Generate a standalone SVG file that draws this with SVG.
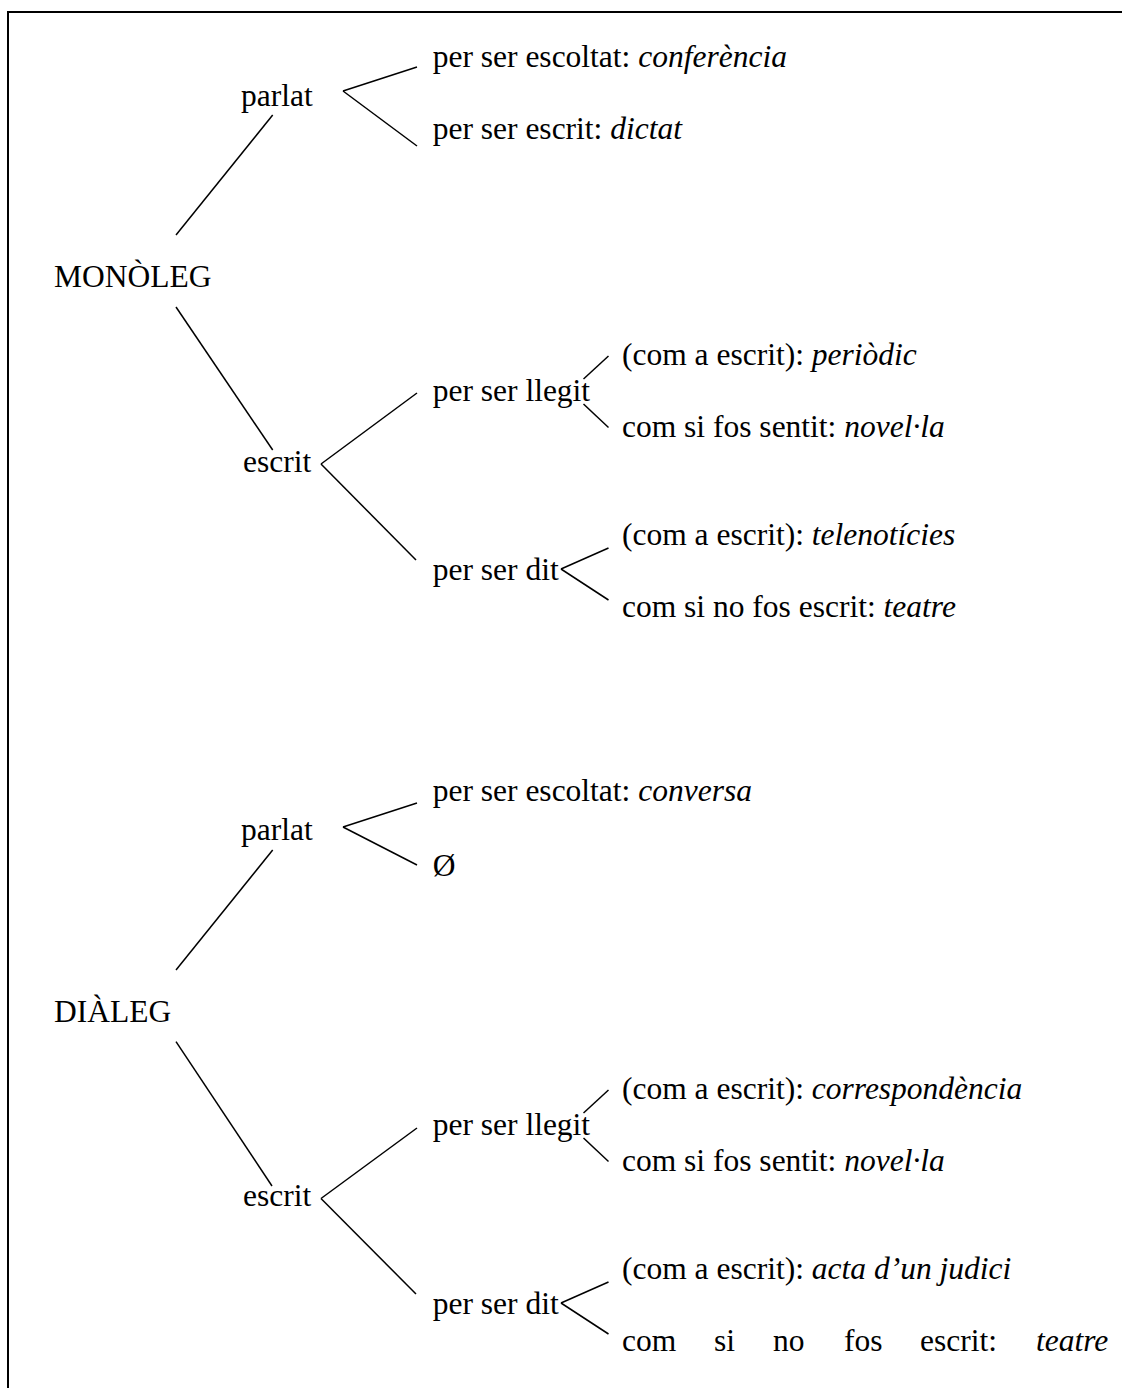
<svg xmlns="http://www.w3.org/2000/svg" width="1122" height="1388" viewBox="0 0 1122 1388">
<style>
text{font-family:"Liberation Serif","Times New Roman",serif;font-size:31.5px;fill:#000}
.i{font-style:italic}
.c line{stroke:#000;stroke-width:1.5;stroke-linecap:butt}
.b{stroke:#000;stroke-width:2;fill:none}
</style>
<rect width="1122" height="1388" fill="#fff"/>
<path class="b" d="M8 1388 V12 H1122"/>
<g class="c" id="connectors">
<line x1="176" y1="235" x2="272.7" y2="115"/>
<line x1="176" y1="307" x2="272.7" y2="450"/>
<line x1="343" y1="91" x2="417" y2="67"/>
<line x1="343" y1="91" x2="417" y2="146"/>
<line x1="321" y1="464" x2="417" y2="393"/>
<line x1="321" y1="464" x2="416" y2="560"/>
<line x1="583.5" y1="379" x2="608.5" y2="356"/>
<line x1="583.5" y1="404" x2="608.5" y2="427.5"/>
<line x1="561" y1="569" x2="608.5" y2="548"/>
<line x1="561" y1="569" x2="608.5" y2="600"/>
<line x1="176" y1="970" x2="272.7" y2="850"/>
<line x1="176" y1="1041.7" x2="272" y2="1186"/>
<line x1="343" y1="827" x2="417" y2="803"/>
<line x1="343" y1="827" x2="417" y2="865"/>
<line x1="321" y1="1198.5" x2="417" y2="1128"/>
<line x1="321" y1="1198.5" x2="416" y2="1294"/>
<line x1="583.5" y1="1113" x2="608.5" y2="1090"/>
<line x1="583.5" y1="1138" x2="608.5" y2="1161.5"/>
<line x1="561" y1="1303" x2="608.5" y2="1282"/>
<line x1="561" y1="1303" x2="608.5" y2="1334"/>
</g>
<g id="monoleg"><text x="54" y="287">MONÒLEG</text></g>
<g id="m-parlat"><text x="241" y="106">parlat</text></g>
<g id="m-escoltat"><text x="432.7" y="67">per ser escoltat: <tspan class="i">conferència</tspan></text></g>
<g id="m-escrit-dictat"><text x="432.7" y="139">per ser escrit: <tspan class="i">dictat</tspan></text></g>
<g id="m-escrit"><text x="243" y="472">escrit</text></g>
<g id="m-llegit"><text x="432.7" y="401">per ser llegit</text></g>
<g id="m-periodic"><text x="622" y="365">(com a escrit): <tspan class="i">periòdic</tspan></text></g>
<g id="m-novella"><text x="622" y="437">com si fos sentit: <tspan class="i">novel·la</tspan></text></g>
<g id="m-dit"><text x="432.7" y="580">per ser dit</text></g>
<g id="m-telenoticies"><text x="622" y="545">(com a escrit): <tspan class="i">telenotícies</tspan></text></g>
<g id="m-teatre"><text x="622" y="617">com si no fos escrit: <tspan class="i">teatre</tspan></text></g>
<g id="dialeg"><text x="54" y="1022">DIÀLEG</text></g>
<g id="d-parlat"><text x="241" y="840">parlat</text></g>
<g id="d-escoltat"><text x="432.7" y="801">per ser escoltat: <tspan class="i">conversa</tspan></text></g>
<g id="d-buit"><text x="432.7" y="876">Ø</text></g>
<g id="d-escrit"><text x="243" y="1206">escrit</text></g>
<g id="d-llegit"><text x="432.7" y="1135">per ser llegit</text></g>
<g id="d-correspondencia"><text x="622" y="1099">(com a escrit): <tspan class="i">correspondència</tspan></text></g>
<g id="d-novella"><text x="622" y="1171">com si fos sentit: <tspan class="i">novel·la</tspan></text></g>
<g id="d-dit"><text x="432.7" y="1314">per ser dit</text></g>
<g id="d-acta"><text x="622" y="1279">(com a escrit): <tspan class="i">acta d’un judici</tspan></text></g>
<g id="d-teatre"><text y="1351"><tspan x="622">com</tspan><tspan x="714">si</tspan><tspan x="773">no</tspan><tspan x="844">fos</tspan><tspan x="920">escrit:</tspan><tspan x="1036" class="i">teatre</tspan></text></g>
</svg>
